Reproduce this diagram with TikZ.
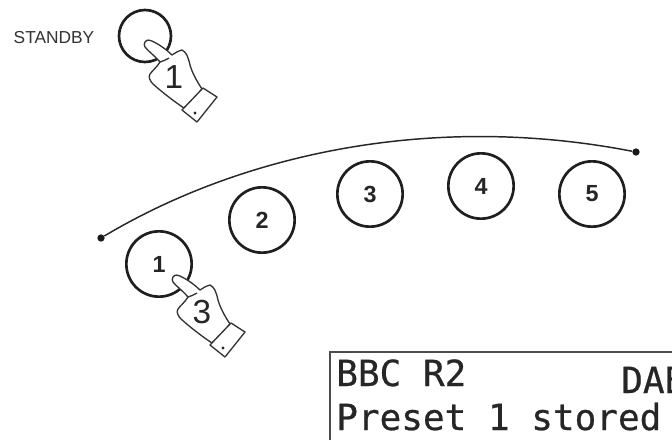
\documentclass[tikz,border=0pt]{standalone}
\usepackage{fontspec}
\setmainfont{Liberation Sans}
\newfontfamily\lcdfont[FakeBold=0.6]{DejaVu Sans Mono}
\tikzset{
  px/.style={x=0.75pt,y=-0.75pt},
  keyring/.style={circle,draw=black!88,line width=2pt,fill=white,minimum size=49pt,inner sep=0pt,font=\bfseries\fontsize{17.5pt}{17.5pt}\selectfont,text=black!85},
  hand/.style={draw=black!80,line width=1pt,fill=white,line join=round},
  lcd/.style={font=\lcdfont\fontsize{27pt}{27pt}\selectfont,anchor=base west,inner sep=0pt,text=black!85},
  endpoint/.style={circle,fill=black!90,minimum size=5.5pt,inner sep=0pt},
}
\newcommand{\pressinghand}[3]{%
  \begin{scope}[shift={(#1,#2)}]
    \draw[hand] (0,0) .. controls (2,-3) and (5,-2) .. (9,0)
      .. controls (15,3) and (22,8) .. (27,13)
      .. controls (30,11) and (33,9) .. (37,8)
      .. controls (41,10) and (43,14) .. (45,23)
      .. controls (47,30) and (51,38) .. (57,47)
      .. controls (52,53) and (46,60) .. (39,66)
      .. controls (30,60) and (18,51) .. (8,42)
      .. controls (5,39) and (3,35) .. (5,32)
      .. controls (8,28) and (12,25) .. (15,20)
      .. controls (10,14) and (3,9) .. (0,5)
      .. controls (-1,3) and (-1,2) .. (0,0) -- cycle;
    \draw[hand] (15,20) .. controls (18,19) and (21,18) .. (24,16);
    \draw[hand] (58,46) -- (72,55) -- (52,80) -- (37,68) -- cycle;
    \fill[black!85] (50,71) circle (1.7);
    \node[font=\fontsize{25pt}{25pt}\selectfont,text=black!85] at (29,35) {#3};
  \end{scope}}
\begin{document}
\begin{tikzpicture}[px]
\useasboundingbox (0,0) rectangle (672,440);
\fill[white] (0,0) rectangle (672,440);
\node[font=\fontsize{13pt}{13pt}\selectfont,text=black!80] (standby) at (54,37.5) {STANDBY};
\node[keyring,minimum size=39pt] (k0) at (145,36) {};
\node[keyring] (k1) at (159,264) {1};
\node[keyring] (k2) at (262,220) {2};
\node[keyring] (k3) at (370,194) {3};
\node[keyring] (k4) at (481,186) {4};
\node[keyring] (k5) at (592,194) {5};
\node[endpoint] (a) at (101,238) {};
\node[endpoint] (b) at (636,152) {};
\draw[black!85,line width=1.1pt] (a) .. controls (240,155) and (430,112) .. (b);
\pressinghand{145}{42}{1}
\pressinghand{173}{277}{3}
\draw[black!70,line width=1.6pt] (330,440) -- (330,352) -- (672,352);
\node[lcd] (l1) at (336,386) {BBC R2};
\node[lcd] (l2) at (336,430) {Preset 1 stored};
\node[lcd] (l3) at (621,393) {DAB};
\end{tikzpicture}
\end{document}
